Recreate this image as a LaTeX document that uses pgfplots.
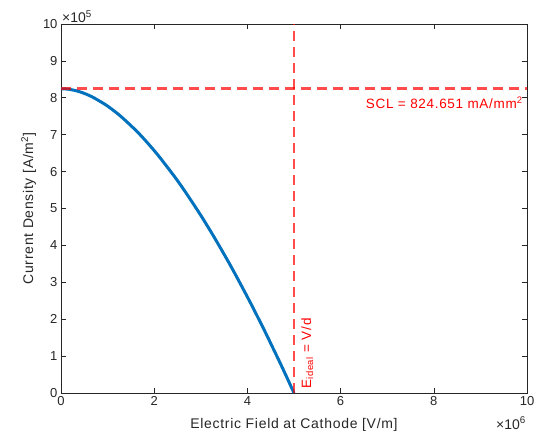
\documentclass[border=0pt]{standalone}
\usepackage{pgfplots}
\pgfplotsset{compat=1.18}
\usepackage{fontspec}
\setmainfont{Liberation Sans}
\newfontfamily\wide{Liberation Sans}[LetterSpace=5]
\definecolor{mblue}{RGB}{0,114,189}
\definecolor{axgray}{RGB}{38,38,38}
\begin{document}
\begin{tikzpicture}
\useasboundingbox (-61pt,-48pt) rectangle (479pt,393pt);
\begin{axis}[
  at={(0,0)}, anchor=south west,
  scale only axis, width=466pt, height=369pt,
  xmin=0, xmax=10, ymin=0, ymax=10,
  xtick={0,2,4,6,8,10}, ytick={0,1,...,10},
  tick align=inside, major tick length=5pt,
  axis line style={axgray, line width=0.6pt},
  tick style={axgray, line width=0.6pt},
  /pgf/number format/assume math mode=true,
  tick label style={font=\fontsize{13}{15}\selectfont, text=axgray},
  label style={font=\wide\fontsize{14}{16}\selectfont, text=axgray},
  xlabel={Electric Field at Cathode [V/m]},
  xlabel style={yshift=-6pt},
  ylabel={Current Density [A/m\textsuperscript{2}]},
  clip=false,
]
\addplot[mblue, line width=3pt, smooth] coordinates {
(0,8.2465)(0.1666,8.2318)(0.3326,8.1889)(0.4741,8.1316)(0.6612,8.0301)
(0.9375,7.8278)(1.0884,7.6937)(1.2963,7.4830)(1.6,7.1250)(1.8107,6.8435)
(2.0833,6.4426)(2.4490,5.8423)(2.6824,5.4238)(2.9630,4.8868)(3.1254,4.5595)
(3.3058,4.1820)(3.5503,3.6484)(3.7333,3.2326)(4.0441,2.4959)(4.2799,1.9118)
(4.4077,1.5861)(4.6865,0.8558)(4.8385,0.4452)(5,0)};
\addplot[red, opacity=0.7, line width=2.5pt, dash pattern=on 10pt off 6pt] coordinates {(0,8.24651)(10,8.24651)};
\addplot[red, opacity=0.7, line width=2.5pt, dash pattern=on 10pt off 6pt] coordinates {(5,0)(5,10)};
\node[anchor=north east, text=red, font=\wide\fontsize{13.5}{15}\selectfont, inner sep=1pt] at (axis cs:9.93,8.05) {SCL = 824.651 mA/mm\textsuperscript{2}};
\node[anchor=north west, rotate=90, text=red, font=\wide\fontsize{13.5}{15}\selectfont, inner sep=1pt] at (axis cs:5.13,0.1) {E\textsubscript{ideal} = V/d};
\node[anchor=south west, text=axgray, font=\fontsize{14}{15}\selectfont, inner sep=1pt] at (rel axis cs:0,1) {×10\textsuperscript{5}};
\node[anchor=north east, text=axgray, font=\fontsize{14}{15}\selectfont, inner sep=1pt] at (rel axis cs:1,-0.062) {×10\textsuperscript{6}};
\end{axis}
\end{tikzpicture}
\end{document}
